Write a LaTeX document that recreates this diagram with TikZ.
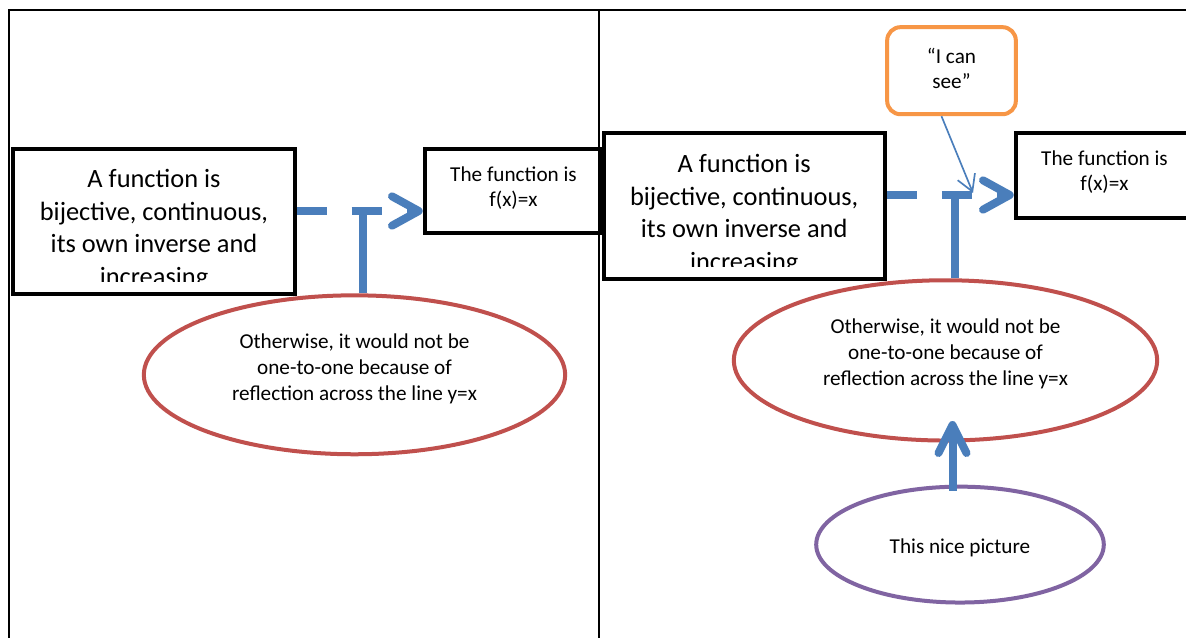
\documentclass[tikz,border=0pt]{standalone}
\usepackage{fontspec}
\setmainfont{Carlito}
\usetikzlibrary{shapes.geometric,arrows.meta,calc}
\definecolor{cblue}{RGB}{74,126,187}
\definecolor{cred}{RGB}{192,80,77}
\definecolor{corange}{RGB}{247,150,70}
\definecolor{cpurple}{RGB}{128,100,162}
\begin{document}
\begin{tikzpicture}[x=0.75pt,y=-0.75pt,
  tbl/.style={line width=1.5pt,draw=black},
  bigbox/.style={draw=black,line width=3pt,rectangle,minimum width=211pt,minimum height=108.8pt,inner sep=0pt},
  smallbox/.style={draw=black,line width=3pt,rectangle,minimum width=133.2pt,minimum height=63.1pt,inner sep=0pt},
  smalltext/.style={align=center,inner sep=0pt,font=\fontsize{15.9pt}{18.75pt}\selectfont},
  bigtext/.style={align=center,inner sep=0pt,font=\fontsize{19.8pt}{24.4pt}\selectfont},
  oval/.style={ellipse,line width=3pt,inner sep=0pt},
  ovaltext/.style={align=center,inner sep=0pt,font=\fontsize{15.9pt}{19.5pt}\selectfont},
  callout/.style={draw=corange,line width=3pt,rounded corners=10pt,rectangle,minimum width=96.5pt,minimum height=65.3pt,inner sep=0pt},
  conn/.style={draw=cblue,line width=6pt},
  dashconn/.style={conn,dash pattern=on 22.5pt off 18.75pt,-{Straight Barb[length=20pt,width=22pt,round]}},
  uparrow/.style={conn,-{Straight Barb[length=21pt,width=21pt,round]}},
  thinarrow/.style={draw=cblue,line width=1.25pt,-{Straight Barb[length=12pt,width=14pt]}},
  ]
\fill[white] (0,0) rectangle (1186,638);
\clip (0,0) rectangle (1186,638);

% table lines
\draw[tbl] (9,638) -- (9,10) -- (1186,10);
\draw[tbl] (598.8,10) -- (598.8,638);

% ---------- left panel ----------
\node[bigbox] (a1) at (154,221.3) {};
\begin{scope}
  \clip (15,151) rectangle (293,282);
  \node[bigtext] (a1t) at (154,229.5) {A function is\\bijective, continuous,\\its own inverse and\\increasing};
\end{scope}
\node[smallbox] (b1) at (513.5,190.7) {};
\node[smalltext] (b1t) at (513.5,187.7) {The function is\\f(x)=x};
\node[oval,draw=cred,minimum width=316pt,minimum height=119.2pt] (e1) at (354.5,374.8) {};
\node[ovaltext] (e1t) at (354.5,368.5) {Otherwise, it would not be\\one-to-one because of\\reflection across the line y=x};
\coordinate (j1) at (363,211);
\draw[dashconn] (a1.east |- j1) -- (b1.west |- j1);
\draw[conn] (e1.north -| j1) -- (j1);

% ---------- right panel ----------
\node[bigbox] (a2) at (744.2,206) {};
\begin{scope}
  \clip (606,136) rectangle (882,267);
  \node[bigtext] (a2t) at (744.2,214.5) {A function is\\bijective, continuous,\\its own inverse and\\increasing};
\end{scope}
\node[smallbox] (b2) at (1104.5,175.5) {};
\node[smalltext] (b2t) at (1104.5,172.5) {The function is\\f(x)=x};
\node[oval,draw=cred,minimum width=317.5pt,minimum height=120.2pt] (e2) at (945.5,360.4) {};
\node[ovaltext] (e2t) at (945.5,354) {Otherwise, it would not be\\one-to-one because of\\reflection across the line y=x};
\node[oval,draw=cpurple,minimum width=215.7pt,minimum height=86.9pt] (p) at (960,544.6) {};
\node[ovaltext] (pt) at (960,548) {This nice picture};
\node[callout] (c) at (951.5,70.7) {};
\node[smalltext] (ct) at (951.5,68.5) {“I can\\see”};
\coordinate (j2) at (954.5,195);
\coordinate (t2) at (973,193);
\coordinate (t3) at (952.5,421);
\draw[dashconn] (a2.east |- j2) -- (b2.west |- j2);
\draw[conn] (e2.north -| j2) -- (j2);
\draw[uparrow] ($(p.north -| t3)+(0,6)$) -- (t3);
\draw[thinarrow] ($(c.south)+(-10,0)$) -- (t2);
\end{tikzpicture}
\end{document}
